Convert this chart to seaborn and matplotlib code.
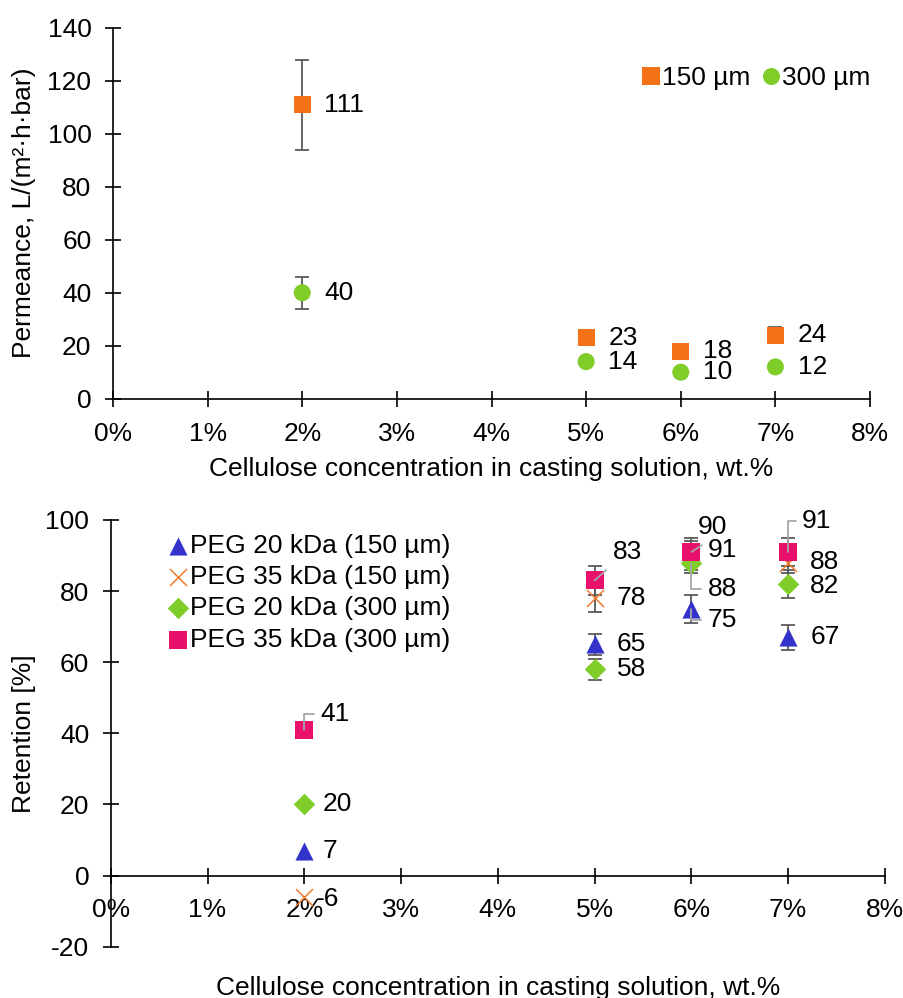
import numpy as np
import pandas as pd
import matplotlib
matplotlib.use("Agg")
import matplotlib.pyplot as plt
import seaborn as sns
from matplotlib.ticker import FuncFormatter, MultipleLocator

# ---------------- data ----------------
# Top: permeance
perm_conc = [2, 5, 6, 7]
perm_150 = [111, 23, 18, 24]
perm_150_err = [17, 2, 1, 3]
perm_300 = [40, 14, 10, 12]
perm_300_err = [6, 1, 1, 1]
perm_series = ["150 µm", "300 µm"]

# Bottom: retention
ret_conc = [2, 5, 6, 7]
ret_series = ["PEG 20 kDa (150 µm)", "PEG 35 kDa (150 µm)",
              "PEG 20 kDa (300 µm)", "PEG 35 kDa (300 µm)"]
peg20_150 = [7, 65, 75, 67]
peg20_150_err = [0, 3, 4, 3.5]
peg35_150 = [-6, 78, 90, 88]
peg35_150_err = [0, 4, 4, 3]
peg20_300 = [20, 58, 88, 82]
peg20_300_err = [0, 3, 3, 4]
peg35_300 = [41, 83, 91, 91]
peg35_300_err = [0, 4, 4, 4]

xticks = [0, 1, 2, 3, 4, 5, 6, 7, 8]

# ---------------- style ----------------
sns.set_theme(style="white")
plt.rcParams["font.family"] = ["Liberation Sans", "DejaVu Sans"]
plt.rcParams["axes.unicode_minus"] = False
plt.rcParams["text.color"] = "black"
plt.rcParams["axes.labelcolor"] = "black"
plt.rcParams["xtick.color"] = "black"
plt.rcParams["ytick.color"] = "black"
FS = 19
GRAY = "#5a5a5a"
LEAD = "#a6a6a6"

c_orange = "#F47216"
c_green = "#80CC28"
c_blue = "#3333CC"
c_xorange = "#F07A30"
c_pink = "#E8106A"

fig = plt.figure(figsize=(9.04, 9.98), dpi=100)
ax1 = fig.add_axes([0.125, 0.6005, 0.8374, 0.3717])
ax2 = fig.add_axes([0.1225, 0.0514, 0.8565, 0.4276])

pct = FuncFormatter(lambda v, p: f"{int(round(v))}%")


def style_axes(ax):
    for s in ["top", "right"]:
        ax.spines[s].set_visible(False)
    for s in ["left", "bottom"]:
        ax.spines[s].set_color("black")
        ax.spines[s].set_linewidth(1.2)
    ax.tick_params(axis="both", which="major", direction="inout", length=11,
                   width=1.2, color="black", labelsize=FS, labelcolor="black",
                   left=True, bottom=True)
    ax.tick_params(axis="y", pad=10)
    ax.tick_params(axis="x", pad=11)
    ax.set_xticks(xticks)
    ax.xaxis.set_major_formatter(pct)
    ax.grid(False)
    ax.set_facecolor("white")


# ---------------- top chart ----------------
df_top = pd.DataFrame({
    "conc": perm_conc * 2,
    "val": perm_150 + perm_300,
    "err": perm_150_err + perm_300_err,
    "series": [perm_series[0]] * 4 + [perm_series[1]] * 4,
})
for name, g in df_top.groupby("series", sort=False):
    ax1.errorbar(g["conc"], g["val"], yerr=g["err"], fmt="none", ecolor=GRAY,
                 elinewidth=1.3, capsize=5, capthick=1.3, zorder=2)
sns.scatterplot(data=df_top, x="conc", y="val", hue="series", style="series",
                markers={perm_series[0]: "s", perm_series[1]: "o"},
                palette={perm_series[0]: c_orange, perm_series[1]: c_green},
                s=150, linewidth=0, ax=ax1, zorder=3)
top_dy = {(0, 6): 1, (1, 6): -1}
for i, r in df_top.iterrows():
    ax1.annotate(f"{r['val']:g}", (r["conc"], r["val"]), xytext=(16, 0),
                 textcoords="offset points", va="center", ha="left", fontsize=FS,
                 color="black")

ax1.set_xlim(0, 8)
ax1.set_ylim(0, 140)
ax1.yaxis.set_major_locator(MultipleLocator(20))
style_axes(ax1)
ax1.set_xlabel("Cellulose concentration in casting solution, wt.%", fontsize=FS)
ax1.xaxis.set_label_coords(0.5, -0.157)
ax1.set_ylabel("Permeance, L/(m²·h·bar)", fontsize=FS)
ax1.yaxis.set_label_coords(-0.102, 0.5)
h, l = ax1.get_legend_handles_labels()
ax1.legend(h, l, loc="center right", bbox_to_anchor=(1.0, 0.864), ncol=2,
           frameon=False, fontsize=FS, handletextpad=-0.2, columnspacing=0.2,
           markerscale=1.0, borderaxespad=0, borderpad=0, handlelength=1.2)

# ---------------- bottom chart ----------------
vals = [peg20_150, peg35_150, peg20_300, peg35_300]
errs = [peg20_150_err, peg35_150_err, peg20_300_err, peg35_300_err]
df_bot = pd.DataFrame({
    "conc": ret_conc * 4,
    "val": sum(vals, []),
    "err": sum(errs, []),
    "series": sum([[s] * 4 for s in ret_series], []),
})
for name, g in df_bot.groupby("series", sort=False):
    g2 = g[g["err"] > 0]
    ax2.errorbar(g2["conc"], g2["val"], yerr=g2["err"], fmt="none", ecolor=GRAY,
                 elinewidth=1.3, capsize=5, capthick=1.3, zorder=2)

mk = {ret_series[0]: "^", ret_series[1]: "x", ret_series[2]: "D", ret_series[3]: "s"}
col = {ret_series[0]: c_blue, ret_series[1]: c_xorange,
       ret_series[2]: c_green, ret_series[3]: c_pink}
sizes = {ret_series[0]: 170, ret_series[1]: 150, ret_series[2]: 120, ret_series[3]: 170}
for sname in ret_series:
    g = df_bot[df_bot["series"] == sname]
    if mk[sname] == "x":
        sns.scatterplot(data=g, x="conc", y="val", marker="x", color=col[sname],
                        s=sizes[sname], linewidth=1.1, ax=ax2, zorder=3, label=sname)
    else:
        sns.scatterplot(data=g, x="conc", y="val", marker=mk[sname], color=col[sname],
                        s=sizes[sname], linewidth=0, ax=ax2, zorder=3, label=sname)

# label placements: (dx, dy) in pixels, leader style
px = 0.72
label_cfg = {
    (0, 0): (18, 0, None), (1, 0): (12, -2, None), (2, 0): (18, 0, None), (3, 0): (16, 16, "angle"),
    (0, 1): (22, 0, None), (1, 1): (22, 0, None), (2, 1): (22, 0, None), (3, 1): (18, 28, "diag"),
    (0, 2): (16, -11, "angle"), (1, 2): (6, 29, None), (2, 2): (16, -26, "angle"), (3, 2): (16, 2, "diag2"),
    (0, 3): (22, 0, None), (1, 3): (22, 1, None), (2, 3): (22, -2, None), (3, 3): (14, 31, "angle"),
}
for si, sname in enumerate(ret_series):
    for ci, c in enumerate(ret_conc):
        v = vals[si][ci]
        dx, dy, lead = label_cfg[(si, ci)]
        kw = dict(xytext=(dx * px, dy * px), textcoords="offset points",
                  va="center", ha="left", fontsize=FS, zorder=5, color="black")
        if lead == "angle":
            kw["arrowprops"] = dict(arrowstyle="-", color=LEAD, lw=1.3,
                                    shrinkA=2, shrinkB=0, relpos=(0, 0.5),
                                    connectionstyle="angle,angleA=0,angleB=90,rad=0")
        elif lead == "diag":
            kw["arrowprops"] = dict(arrowstyle="-", color=LEAD, lw=1.3,
                                    shrinkA=3, shrinkB=0, relpos=(0, 0.0))
        elif lead == "diag2":
            kw["arrowprops"] = dict(arrowstyle="-", color=LEAD, lw=1.3,
                                    shrinkA=2, shrinkB=0, relpos=(0, 0.85))
        ax2.annotate(f"{v:g}", (c, v), **kw)

ax2.set_xlim(0, 8)
ax2.set_ylim(-20, 100)
ax2.yaxis.set_major_locator(MultipleLocator(20))
style_axes(ax2)
ax2.spines["bottom"].set_position(("data", 0))
ax2.set_xlabel("Cellulose concentration in casting solution, wt.%", fontsize=FS)
ax2.xaxis.set_label_coords(0.5, -0.068)
ax2.set_ylabel("Retention [%]", fontsize=FS)
ax2.yaxis.set_label_coords(-0.097, 0.5)
h, l = ax2.get_legend_handles_labels()
ax2.legend(h, l, loc="upper left", bbox_to_anchor=(0.065, 0.968), frameon=False,
           fontsize=FS, handletextpad=-0.2, labelspacing=0.28, borderaxespad=0,
           borderpad=0, handlelength=1.3)

fig.savefig("out.png", dpi=100, facecolor="white")
